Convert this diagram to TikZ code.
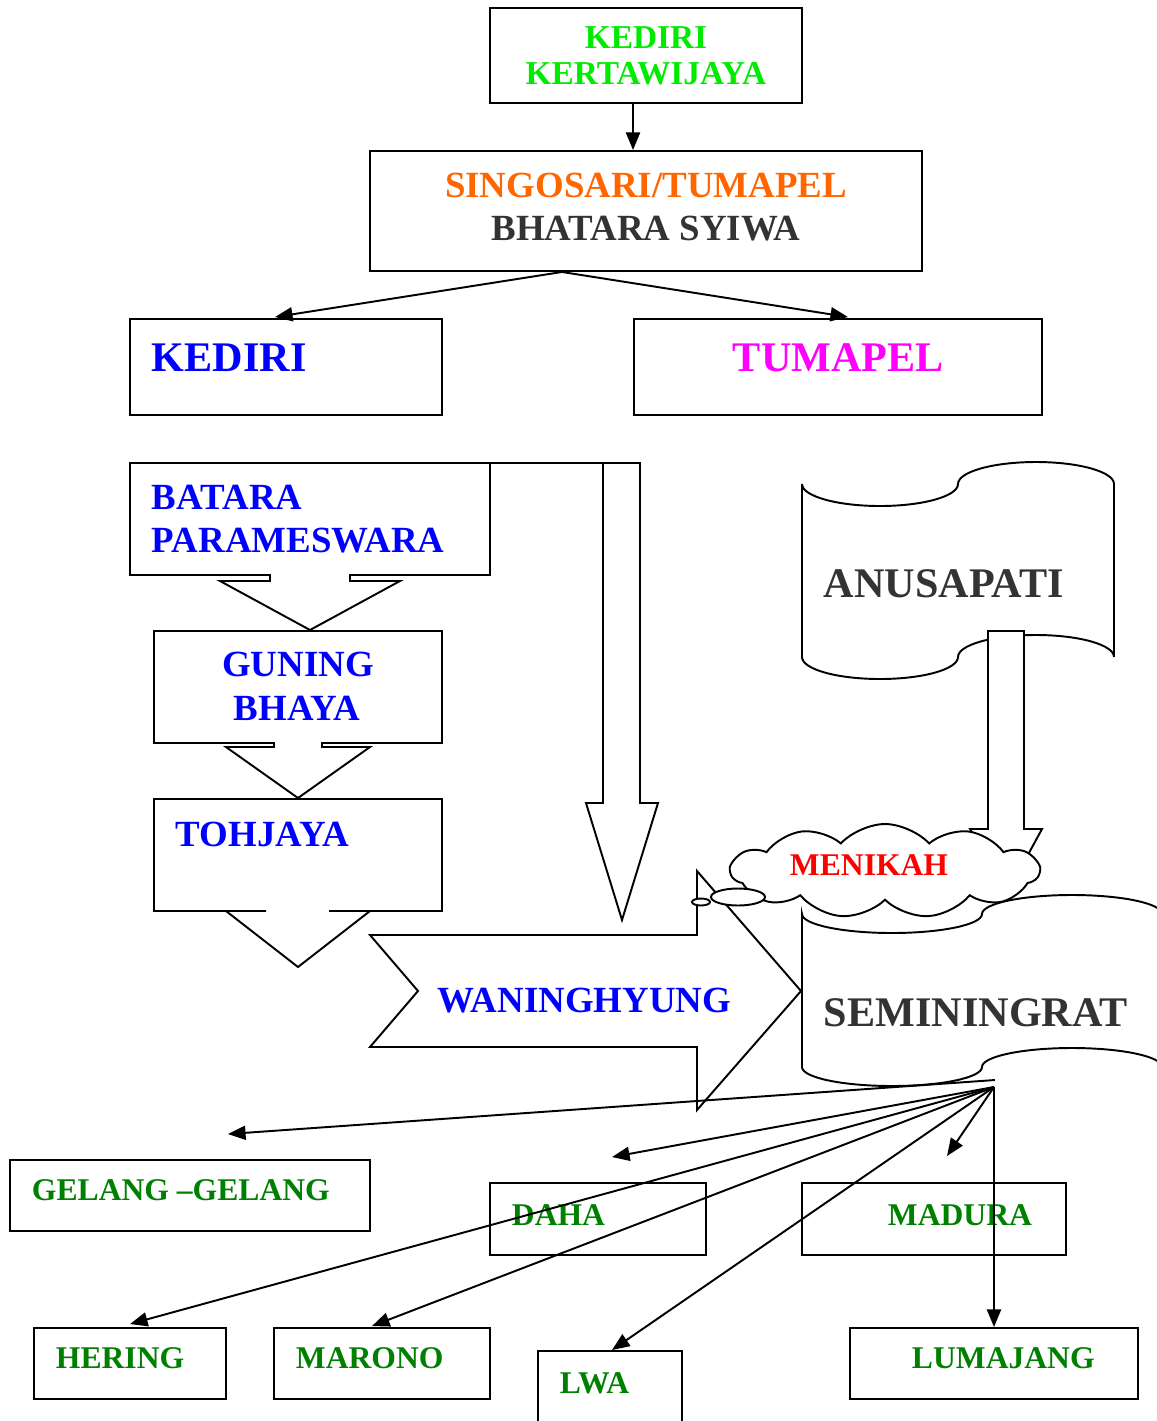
\documentclass[tikz,border=0pt]{standalone}
\usepackage{fontspec}
\setmainfont{Liberation Serif}
\usetikzlibrary{arrows.meta,calc,shapes.symbols}

\definecolor{kgreen}{RGB}{0,235,0}
\definecolor{korange}{RGB}{255,102,0}
\definecolor{kgray}{RGB}{51,51,51}
\definecolor{dgreen}{RGB}{0,128,0}
\definecolor{kmagenta}{RGB}{255,0,255}
\def\pxu{0.02cm}
\newcommand\fsm{\fontsize{18pt}{20pt}\selectfont\bfseries}
\newcommand\fmd{\fontsize{21pt}{24pt}\selectfont\bfseries}
\newcommand\fbg{\fontsize{24pt}{28pt}\selectfont\bfseries}

\tikzset{
  kbox/.style args={#1x#2}{draw, minimum width=#1*\pxu, minimum height=#2*\pxu, inner sep=0pt},
  txt/.style={anchor=base west, inner sep=0pt},
  txtc/.style={anchor=base, inner sep=0pt},
}

\begin{document}
\begin{tikzpicture}[x=0.02cm, y=-0.02cm, line width=1.1pt, >={Triangle[length=10pt,width=8pt]}]
\useasboundingbox (0,0) rectangle (1157,1421);
\clip (0,0) rectangle (1157,1421);

% top of the tree
\node[kbox=312x95] (top) at (646,55.5) {};
\node[kbox=552x120] (singo) at (646,211) {};
\node[kbox=312x96] (kediri) at (286,367) {};
\node[kbox=408x96] (tumapel) at (838,367) {};
\node[txtc, font=\fontsize{19pt}{20pt}\selectfont\bfseries, text=kgreen] (t-top1) at (646,48) {KEDIRI};
\node[txtc, font=\fontsize{19pt}{20pt}\selectfont\bfseries, text=kgreen] (t-top2) at (646,84.5) {KERTAWIJAYA};
\node[txtc, font=\fmd, text=korange] (t-singo1) at (646,197) {SINGOSARI/TUMAPEL};
\node[txtc, font=\fmd, text=kgray] (t-singo2) at (646,240) {BHATARA SYIWA};
\node[txt, font=\fbg, text=blue] (t-kediri) at (151,371) {KEDIRI};
\node[txt, font=\fbg, text=kmagenta] (t-tumapel) at (732,371) {TUMAPEL};
\draw[->] ($(top.south)+(-13,0)$) -- ($(singo.north)+(-13,0)$);
\draw[->] ($(singo.south)+(-84,0)$) -- ($(kediri.north)+(-11,-1)$);
\draw[->] ($(singo.south)+(-84,0)$) -- ($(tumapel.north)+(10,-1)$);

% kediri line
\draw (130,463) -- (490,463) -- (490,575) -- (350,575) -- (350,581) -- (400,581)
  -- (310,630) -- (220,581) -- (270,581) -- (270,575) -- (130,575) -- cycle;
\draw (490,463) -- (603,463);
\draw (154,631) -- (442,631) -- (442,743) -- (322,743) -- (322,747) -- (370,747)
  -- (298,798) -- (226,747) -- (274,747) -- (274,743) -- (154,743) -- cycle;
\draw (266,911) -- (154,911) -- (154,799) -- (442,799) -- (442,911) -- (329,911)
  (329,911) -- (370,911) -- (298,967) -- (226,911) -- (266,911);
\draw (603,463) -- (640,463) -- (640,803) -- (658,803) -- (622,920) -- (586,803) -- (603,803) -- cycle;
\node[txt, font=\fmd, text=blue] (t-batara1) at (151,509) {BATARA};
\node[txt, font=\fmd, text=blue] (t-batara2) at (151,552) {PARAMESWARA};
\node[txtc, font=\fmd, text=blue] (t-guning1) at (298,676) {GUNING};
\node[txtc, font=\fmd, text=blue] (t-guning2) at (297,720) {BHAYA};
\node[txt, font=\fmd, text=blue] (t-tohjaya) at (175,846) {TOHJAYA};

\draw (370,935) -- (697,935) -- (697,871) -- (801,991) -- (697,1110) -- (697,1047)
  -- (370,1047) -- (418,991) -- cycle;
\node[txt, font=\fmd, text=blue] (t-waning) at (437,1012) {WANINGHYUNG};

% tumapel line
\draw[fill=white] (802,484) arc[start angle=180, end angle=0, x radius=78, y radius=22]
  arc[start angle=180, end angle=360, x radius=78, y radius=22] -- (1114,657)
  arc[start angle=0, end angle=-180, x radius=78, y radius=22]
  arc[start angle=0, end angle=180, x radius=78, y radius=22] -- cycle;
\node[txt, font=\fbg, text=kgray] (t-anusa) at (823,597) {ANUSAPATI};
\draw[fill=white] (988,631) -- (1024,631) -- (1024,829) -- (1042,829) -- (1006,895) -- (970,829) -- (988,829) -- cycle;

\draw[fill=white] (802,914) arc[start angle=180, end angle=0, x radius=90, y radius=19]
  arc[start angle=180, end angle=360, x radius=90, y radius=19] -- (1162,1067)
  arc[start angle=0, end angle=-180, x radius=90, y radius=19]
  arc[start angle=0, end angle=180, x radius=90, y radius=19] -- cycle;
\node[txt, font=\fbg, text=kgray] (t-semin) at (823,1026) {SEMININGRAT};

\node[cloud, draw, fill=white, cloud puffs=11, cloud puff arc=95, aspect=3.3, minimum width=308*\pxu,
  minimum height=94*\pxu, inner sep=0pt] (menikah) at (885,871) {};
\draw[fill=white] (738,897) ellipse [x radius=27, y radius=8.5];
\draw[fill=white] (701,902) ellipse [x radius=9, y radius=3.5];
\node[txt, font=\fsm, text=red] (t-menikah) at (789,875.5) {MENIKAH};

% daerah
\foreach \n/\x/\y/\w/\h in {gelang/190/1195.5/360/71, daha/598/1219/216/72, madura/934/1219/264/72,
  hering/130/1363.5/192/71, marono/382/1363.5/216/71, lwa/610/1401/144/100, lumajang/994/1363.5/288/71} {
\node[kbox=\w x\h] (\n) at (\x,\y) {};
}
\foreach \n/\x/\y/\t in {gelang/31/1200.5/GELANG –GELANG, daha/511/1225.5/DAHA, madura/887/1225.5/MADURA,
  hering/55/1368.5/HERING, marono/295/1368.5/MARONO, lwa/559/1393.5/LWA, lumajang/911/1368.5/LUMAJANG} {
\node[txt, font=\fsm, text=dgreen] (t-\n) at (\x,\y) {\t};
}
\coordinate (fan) at (994,1087);
\coordinate (fan2) at (995,1080);
\draw[->] (fan2) -- ($(gelang.north)+(38,-25)$);
\foreach \n/\dx/\dy in {daha/14/-25, madura/13/-26, hering/0/-3, marono/-10/-1, lwa/2/0, lumajang/0/0} {
\draw[->] (fan) -- ($(\n.north)+(\dx,\dy)$);
}
\end{tikzpicture}
\end{document}
